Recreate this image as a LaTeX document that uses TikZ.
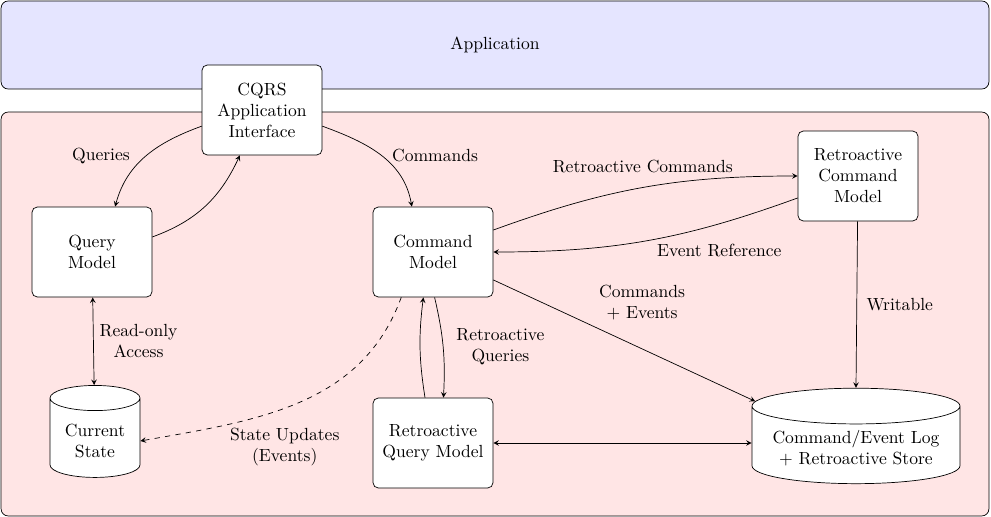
\documentclass[tikz,border=0pt]{standalone}
\usetikzlibrary{shapes.geometric}
\begin{document}
\begin{tikzpicture}[x=0.02cm,y=-0.02cm,>=stealth,
box/.style={rectangle,rounded corners=3pt,draw=black,fill=white,align=center,minimum width=2.4cm,minimum height=1.8cm},
store/.style={cylinder,shape border rotate=90,draw=black,fill=white,align=center},
region/.style={rectangle,rounded corners=4pt,draw=black,minimum width=19.76cm},
arrownote/.style={black,align=center}]

\useasboundingbox (0,0) rectangle (991,517);

\node (app) at (495,45) [region,fill=blue!10,minimum height=1.76cm] {Application};
\node (core) at (495,314) [region,fill=red!10,minimum height=8.08cm] {};

\node (cqrs) at (262,110) [box] {CQRS\\Application\\Interface};
\node (query) at (92,252) [box] {Query\\Model};
\node (cmd) at (433,252) [box] {Command\\Model};
\node (rcmd) at (858,176) [box] {Retroactive\\Command\\Model};
\node (rquery) at (433,443) [box] {Retroactive\\Query Model};

\node (cur) at (95,441) [store,aspect=0.35,minimum width=1.8cm,minimum height=1.84cm] {Current\\State};
\node (log) at (856,448) [store,aspect=0.2,minimum width=4.16cm,minimum height=1.8cm] {Command/Event Log\\+ Retroactive Store};

\draw [->] (cqrs.195) to [out=200,in=75] node [arrownote,pos=0.5,left=6pt] {Queries} (query.63);
\draw [->] (query.14) to [out=20,in=245] (cqrs.244);
\draw [->] (cqrs.-15) to [out=-20,in=100] node [arrownote,pos=0.5,right=3pt] {Commands} (cmd.115);

\draw [->] (cmd.20) to [out=20,in=180] node [arrownote,pos=0.5,above=5pt] {Retroactive Commands} (rcmd.west);
\draw [->] (rcmd.200) to [out=200,in=0] node [arrownote,pos=0.25,below=8pt] {Event Reference} (cmd.east);
\draw [->] (rcmd) -- node [arrownote,right=2pt] {Writable} (log.north);
\draw [->] (cmd) -- node [arrownote,pos=0.38,above right] {Commands\\+ Events} (log);

\draw [<->] (query) -- node [arrownote,right] {Read-only\\Access} (cur);
\draw [->,dashed] (cmd.235) to [out=250,in=10] node [arrownote,pos=0.55,below=8pt] {State Updates\\(Events)} (cur.east);

\draw [->] (rquery.100) to [bend left=8] (cmd.258);
\draw [->] (cmd.-88) to [bend left=8] node [arrownote,right=4pt] {Retroactive\\Queries} (rquery.77);
\draw [<->] (rquery.east) -- (rquery.east -| log.west);

\end{tikzpicture}
\end{document}
